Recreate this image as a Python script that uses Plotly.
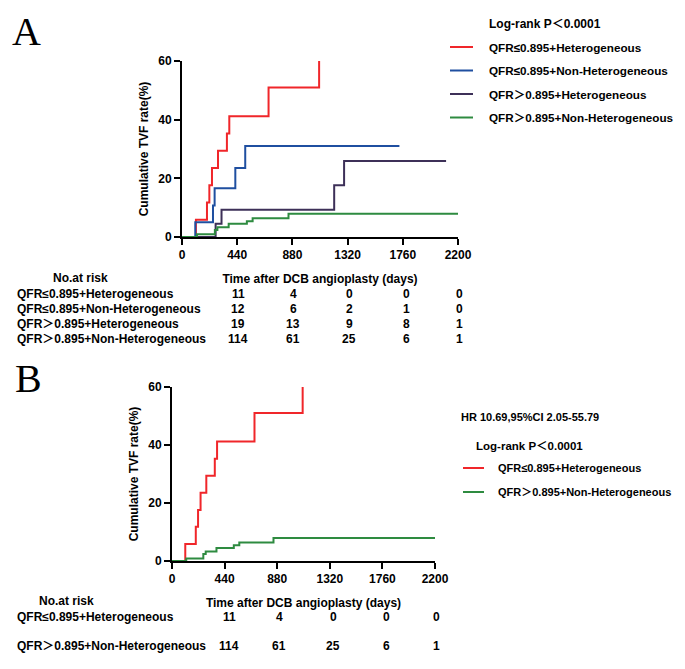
import plotly.graph_objects as go

W, H = 685, 669

# step curves (days, cumulative TVF %)
red_days = [0, 111, 199, 218, 239, 287, 358, 377, 690, 1093]
red_rate = [0, 5.9, 11.8, 17.6, 23.5, 29.4, 35.3, 41.2, 51.0, 60.0]

blue_days = [0, 106, 247, 260, 425, 504, 1733]
blue_rate = [0, 5.0, 10.7, 16.6, 23.5, 31.0, 31.0]

purple_days = [0, 268, 315, 1213, 1292, 2105]
purple_rate = [0, 4.5, 9.3, 17.6, 25.9, 25.9]

green_days = [0, 119, 262, 282, 372, 517, 563, 849, 2200]
green_rate = [0, 0.9, 2.4, 3.3, 4.5, 5.4, 6.4, 7.9, 7.9]

x_ticks = [0, 440, 880, 1320, 1760, 2200]
y_ticks = [0, 20, 40, 60]

group_names = ["QFR≤0.895+Heterogeneous", "QFR≤0.895+Non-Heterogeneous",
               "QFR＞0.895+Heterogeneous", "QFR＞0.895+Non-Heterogeneous"]

risk_a = [[11, 4, 0, 0, 0],
          [12, 6, 2, 1, 0],
          [19, 13, 9, 8, 1],
          [114, 61, 25, 6, 1]]
risk_b = [[11, 4, 0, 0, 0],
          [114, 61, 25, 6, 1]]

logrank_text = "Log-rank P＜0.0001"
hr_text = "HR 10.69,95%CI 2.05-55.79"

RED, BLUE, PURPLE, GREEN = "#f0262a", "#1f4fa0", "#3d3058", "#2e8b40"
colors = [RED, BLUE, PURPLE, GREEN]

SANS = "Liberation Sans, Arial, Noto Sans CJK SC"
SERIF = "Liberation Serif, Times New Roman, serif"


def px(x):
    return x / W


def py(y):
    return 1 - y / H


fig = go.Figure()

curves_a = [(red_days, red_rate), (blue_days, blue_rate),
            (purple_days, purple_rate), (green_days, green_rate)]
for (d, r), c, n in zip(curves_a, colors, group_names):
    fig.add_trace(go.Scatter(x=d, y=r, mode="lines", line=dict(color=c, width=2, shape="hv"),
                             name=n, xaxis="x", yaxis="y", showlegend=False))

for (d, r), c, n in zip([curves_a[0], curves_a[3]], [RED, GREEN], [group_names[0], group_names[3]]):
    fig.add_trace(go.Scatter(x=d, y=r, mode="lines", line=dict(color=c, width=2, shape="hv"),
                             name=n, xaxis="x2", yaxis="y2", showlegend=False))

axis_font = dict(family=SANS, size=12, color="black", weight="bold")


def xaxis(dom, anchor):
    return dict(domain=dom, anchor=anchor, range=[0, 2200], tickvals=x_ticks,
                showline=True, linecolor="black", linewidth=2, ticks="outside",
                ticklen=6, tickwidth=2, tickcolor="black", showgrid=False, zeroline=False,
                tickfont=axis_font, automargin=False,
                title=dict(text="<b>Time after DCB angioplasty (days)</b>", font=axis_font, standoff=13))


def yaxis(dom, anchor):
    return dict(domain=dom, anchor=anchor, range=[0, 60], tickvals=y_ticks,
                showline=True, linecolor="black", linewidth=2, ticks="outside",
                ticklen=6, tickwidth=2, tickcolor="black", showgrid=False, zeroline=False,
                tickfont=axis_font, automargin=False,
                title=dict(text="<b>Cumulative TVF rate(%)</b>", font=axis_font, standoff=7))


annotations = []
shapes = []


def text(x, y, s, size=12, anchor="left", font=SANS, bold=True):
    annotations.append(dict(x=px(x), y=py(y), xref="paper", yref="paper", text=s,
                            showarrow=False, xanchor=anchor, yanchor="middle",
                            font=dict(family=font, size=size, color="black",
                                      weight="bold" if bold else "normal")))


def legend_line(x0, x1, y, color):
    shapes.append(dict(type="line", xref="paper", yref="paper", x0=px(x0), x1=px(x1),
                       y0=py(y), y1=py(y), line=dict(color=color, width=2)))


# panel letters
text(26, 32, "A", size=40, anchor="center", font=SERIF, bold=False)
text(28, 378, "B", size=40, anchor="center", font=SERIF, bold=False)

# legend A
text(487, 24, logrank_text, size=12)
for i, (n, c) in enumerate(zip(group_names, colors)):
    yy = 47 + i * 23.5
    legend_line(450, 473, yy, c)
    text(487, yy, n, size=11.7)

# legend B
text(459, 417, hr_text, size=11)
text(474, 446, logrank_text, size=11.5)
for i, (n, c) in enumerate(zip([group_names[0], group_names[3]], [RED, GREEN])):
    yy = 468 + i * 24
    legend_line(463, 484, yy, c)
    text(496, yy, n, size=11)

# number at risk A
cols_a = [238, 293, 349, 406, 460]
text(80, 278, "No.at risk", anchor="center")
for i, (n, row) in enumerate(zip(group_names, risk_a)):
    yy = 294 + i * 15
    text(15, yy, n)
    for cx, v in zip(cols_a, row):
        text(cx, yy, str(v), anchor="center")

# number at risk B
cols_b = [229, 279, 333, 386, 436]
text(66, 601, "No.at risk", anchor="center")
for i, (n, row) in enumerate(zip([group_names[0], group_names[3]], risk_b)):
    yy = 617 + i * 29
    text(15, yy, n)
    for cx, v in zip(cols_b, row):
        text(cx, yy, str(v), anchor="center")

fig.update_layout(
    width=W, height=H,
    margin=dict(l=0, r=0, t=0, b=0),
    paper_bgcolor="white", plot_bgcolor="white",
    xaxis=xaxis([px(182), px(458)], "y"),
    yaxis=yaxis([py(237), py(61)], "x"),
    xaxis2=xaxis([px(172), px(435)], "y2"),
    yaxis2=yaxis([py(561), py(387)], "x2"),
    annotations=annotations,
    shapes=shapes,
    font=dict(family=SANS),
)

# the page's default body margin would push the figure 8px off
fig.write_html("out.html", config={"displayModeBar": False},
               post_script="document.body.style.margin='0';")
